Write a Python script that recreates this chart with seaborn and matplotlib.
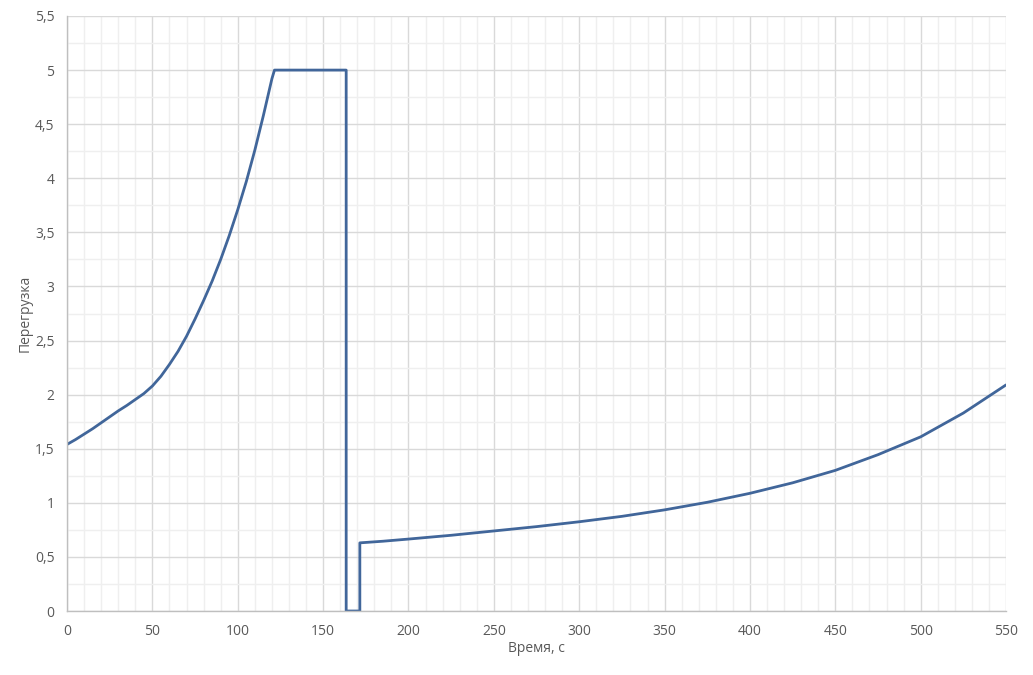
import pandas as pd
import matplotlib
matplotlib.use('Agg')
import matplotlib.pyplot as plt
import seaborn as sns
from matplotlib.ticker import MultipleLocator, FuncFormatter

# Values
time_s = [0, 5, 10, 15, 20, 25, 30, 35, 40, 45, 50, 55, 60, 65, 70, 75, 80, 85, 90,
          95, 100, 105, 110, 115, 120, 121.5,
          163.5, 163.5, 171.5, 171.5, 185, 200, 225, 250, 275, 300, 325, 350, 375,
          400, 425, 450, 475, 500, 525, 550]
overload = [1.54, 1.585, 1.635, 1.685, 1.74, 1.795, 1.85, 1.90, 1.955, 2.01, 2.08,
            2.17, 2.28, 2.40, 2.54, 2.70, 2.87, 3.05, 3.25, 3.47, 3.71, 3.97, 4.26,
            4.58, 4.92, 5.0,
            5.0, 0.0, 0.0, 0.63, 0.645, 0.665, 0.70, 0.74, 0.78, 0.825, 0.875, 0.935,
            1.005, 1.088, 1.185, 1.30, 1.445, 1.61, 1.83, 2.09]

data = pd.DataFrame({'t': time_s, 'g': overload})

sns.set_style('white')
plt.rcParams['font.family'] = ['Open Sans', 'DejaVu Sans']

fig = plt.figure(figsize=(10.33, 6.75), dpi=100)
ax = fig.add_axes([0.0649, 0.0948, 0.909, 0.8815])

sns.lineplot(data=data, x='t', y='g', sort=False, estimator=None,
             color='#41669A', linewidth=2, ax=ax)
ax.lines[0].set_solid_joinstyle('round')

ax.set_xlim(0, 550)
ax.set_ylim(0, 5.5)
ax.xaxis.set_major_locator(MultipleLocator(50))
ax.xaxis.set_minor_locator(MultipleLocator(10))
ax.yaxis.set_major_locator(MultipleLocator(0.5))
ax.yaxis.set_minor_locator(MultipleLocator(0.25))
ax.yaxis.set_major_formatter(FuncFormatter(lambda v, p: f'{v:g}'.replace('.', ',')))

ax.grid(which='major', color='#d9d9d9', linewidth=1)
ax.grid(which='minor', color='#efefef', linewidth=1)
ax.set_axisbelow(True)

for s in ['top', 'right']:
    ax.spines[s].set_visible(False)
for s in ['left', 'bottom']:
    ax.spines[s].set_color('#bfbfbf')
    ax.spines[s].set_linewidth(1)

ax.tick_params(which='both', length=0, colors='#595959', labelsize=10, pad=9)

ax.set_xlabel('Время, с', color='#595959', fontsize=10, labelpad=2)
ax.set_ylabel('Перегрузка', color='#595959', fontsize=10, labelpad=2)

fig.savefig('out.png', dpi=100)
